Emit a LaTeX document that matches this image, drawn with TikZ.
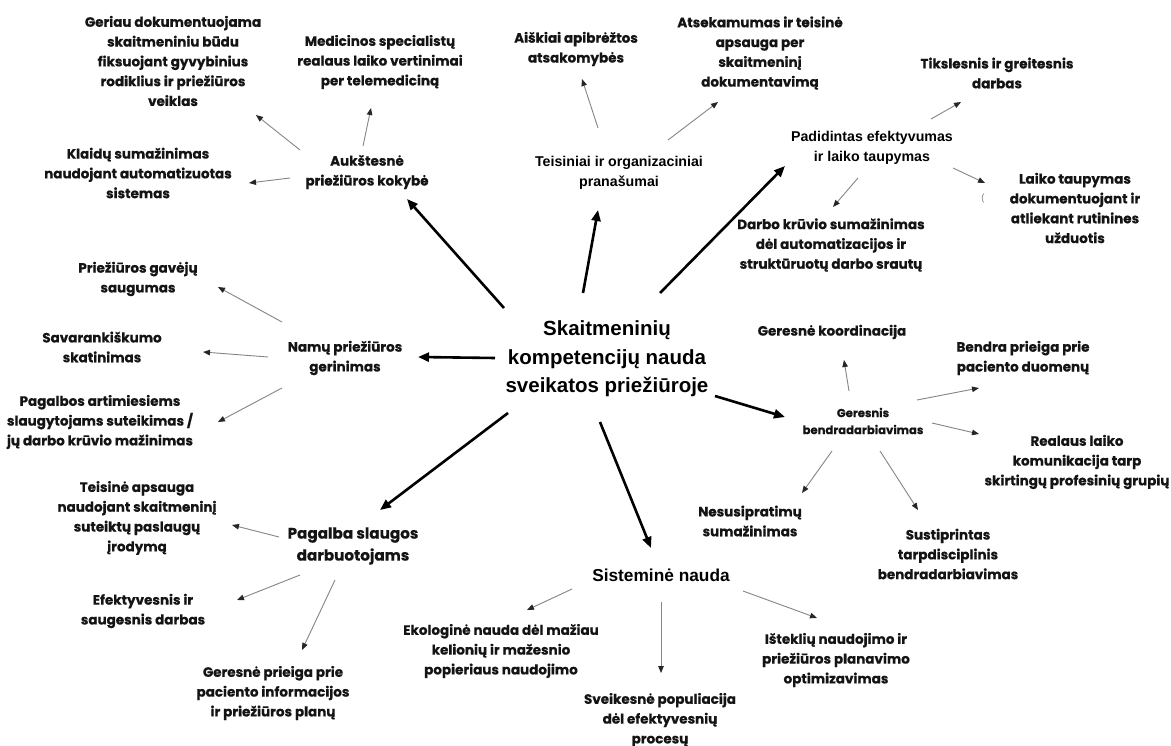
\documentclass[tikz,border=0pt]{standalone}
\usepackage{fontspec}
\usetikzlibrary{arrows.meta,calc}
\newfontfamily\pop{Poppins}[BoldFeatures={FakeBold=0.5}]
\newfontfamily\ari{Liberation Sans}
\tikzset{
  lbl/.style={align=center, inner sep=0pt, text=black!92, font=\pop\bfseries\fontsize{13.5}{19.8}\selectfont},
  lblsmall/.style={lbl, font=\pop\bfseries\fontsize{11.6}{17}\selectfont},
  lblbig/.style={lbl, font=\pop\bfseries\fontsize{15.2}{22}\selectfont},
  hub/.style={align=center, inner sep=0pt, text=black, font=\ari\bfseries\fontsize{14.2}{20.5}\selectfont},
  big/.style={draw=black, line width=2.6pt, -{Triangle[length=11pt,width=9pt]}},
  sub/.style={draw=black!48, line width=0.9pt, -{Triangle[length=7pt,width=5.5pt,color=black!85]}}
}
\begin{document}
\begin{tikzpicture}[x=1pt,y=-1pt]
\useasboundingbox (0,0) rectangle (1171,746);
\fill[white] (0,0) rectangle (1171,746);

% central
\node[hub, font=\ari\bfseries\fontsize{20.5}{28.5}\selectfont] (c) at (607,359) {Skaitmeninių\\kompetencijų nauda\\sveikatos priežiūroje};

% top middle
\node[hub] (tei) at (619,173) {Teisiniai ir organizaciniai\\pranašumai};
\node[lbl] (ais) at (576,49) {Aiškiai apibrėžtos\\atsakomybės};
\node[lbl] (ats) at (760,53) {Atsekamumas ir teisinė\\apsauga per\\skaitmeninį\\dokumentavimą};

% top left
\node[lbl] (auk) at (367,172) {Aukštesnė\\priežiūros kokybė};
\node[lbl] (med) at (380,62) {Medicinos specialistų\\realaus laiko vertinimai\\per telemediciną};
\node[lbl] (ger) at (173,61) {Geriau dokumentuojama\\skaitmeniniu būdu\\fiksuojant gyvybinius\\rodiklius ir priežiūros\\veiklas};
\node[lbl] (kla) at (138,173) {Klaidų sumažinimas\\naudojant automatizuotas\\sistemas};

% top right
\node[hub] (pad) at (872,148) {Padidintas efektyvumas\\ir laiko taupymas};
\node[lbl] (tik) at (997,73) {Tikslesnis ir greitesnis\\darbas};
\node[lbl] (lai) at (1075,208) {Laiko taupymas\\dokumentuojant ir\\atliekant rutinines\\užduotis};
\node[lbl, font=\pop\fontsize{8}{8}\selectfont, text=black!55] (stray) at (983,199) {(};
\node[lbl] (dar) at (831,245) {Darbo krūvio sumažinimas\\dėl automatizacijos ir\\struktūruotų darbo srautų};

% left
\node[lbl] (nam) at (345,358) {Namų priežiūros\\gerinimas};
\node[lbl] (pgv) at (138,279) {Priežiūros gavėjų\\saugumas};
\node[lbl] (sav) at (102,347) {Savarankiškumo\\skatinimas};
\node[lbl] (pag) at (100,422) {Pagalbos artimiesiems\\slaugytojams suteikimas /\\jų darbo krūvio mažinimas};

% bottom left
\node[lblbig] (pgs) at (353,546) {Pagalba slaugos\\darbuotojams};
\node[lbl] (tap) at (137,518) {Teisinė apsauga\\naudojant skaitmeninį\\suteiktų paslaugų\\įrodymą};
\node[lbl] (efe) at (143,611) {Efektyvesnis ir\\saugesnis darbas};
\node[lbl] (gpp) at (273,693) {Geresnė prieiga prie\\paciento informacijos\\ir priežiūros planų};

% bottom
\node[hub, font=\ari\bfseries\fontsize{17.3}{22}\selectfont] (sis) at (661,575) {Sisteminė nauda};
\node[lbl] (eko) at (501,651) {Ekologinė nauda dėl mažiau\\kelionių ir mažesnio\\popieriaus naudojimo};
\node[lbl] (sve) at (660,720) {Sveikesnė populiacija\\dėl efektyvesnių\\procesų};
\node[lbl] (ist) at (836,660) {Išteklių naudojimo ir\\priežiūros planavimo\\optimizavimas};

% right
\node[lblsmall] (gbd) at (863,421) {Geresnis\\bendradarbiavimas};
\node[lbl] (gko) at (832,332) {Geresnė koordinacija};
\node[lbl] (ben) at (1023,358) {Bendra prieiga prie\\paciento duomenų};
\node[lbl] (rea) at (1077,462) {Realaus laiko\\komunikacija tarp\\skirtingų profesinių grupių};
\node[lbl] (nes) at (750,521) {Nesusipratimų\\sumažinimas};
\node[lbl] (sus) at (948,554) {Sustiprintas\\tarpdisciplinis\\bendradarbiavimas};

% thick arrows from the centre
\draw[big] ($(c)+(504-607,308-359)$) -- ($(auk)+(407-367,199-172)$);
\draw[big] ($(c)+(583-607,293-359)$) -- ($(tei)+(598-619,210-173)$);
\draw[big] ($(c)+(660-607,293-359)$) -- ($(pad)+(785-872,166-148)$);
\draw[big] ($(c)+(495-607,358-359)$) -- ($(nam)+(418-345,357-358)$);
\draw[big] ($(c)+(508-607,413-359)$) -- ($(pgs)+(380-353,510-546)$);
\draw[big] ($(c)+(600-607,422-359)$) -- ($(sis)+(651-661,548-575)$);
\draw[big] ($(c)+(715-607,396-359)$) -- ($(gbd)+(785-863,417-421)$);

% thin arrows
\draw[sub] ($(auk)+(300-367,150-172)$) -- ($(ger)+(256-173,115-61)$);
\draw[sub] ($(auk)+(363-367,146-172)$) -- ($(med)+(371-380,108-62)$);
\draw[sub] ($(auk)+(290-367,178-172)$) -- ($(kla)+(249-138,183-173)$);

\draw[sub] ($(tei)+(598-619,128-173)$) -- ($(ais)+(582-576,79-49)$);
\draw[sub] ($(tei)+(668-619,140-173)$) -- ($(ats)+(718-760,102-53)$);

\draw[sub] ($(pad)+(931-872,119-148)$) -- ($(tik)+(961-997,102-73)$);
\draw[sub] ($(pad)+(953-872,168-148)$) -- ($(lai)+(985-1075,183-208)$);
\draw[sub] ($(pad)+(858-872,178-148)$) -- ($(dar)+(833-831,207-245)$);

\draw[sub] ($(nam)+(282-345,322-358)$) -- ($(pgv)+(218-138,287-279)$);
\draw[sub] ($(nam)+(268-345,357-358)$) -- ($(sav)+(203-102,352-347)$);
\draw[sub] ($(nam)+(282-345,388-358)$) -- ($(pag)+(218-100,422-422)$);

\draw[sub] ($(pgs)+(279-353,537-546)$) -- ($(tap)+(232-137,525-518)$);
\draw[sub] ($(pgs)+(300-353,575-546)$) -- ($(efe)+(237-143,600-611)$);
\draw[sub] ($(pgs)+(335-353,580-546)$) -- ($(gpp)+(302-273,650-693)$);

\draw[sub] ($(sis)+(572-661,589-575)$) -- ($(eko)+(527-501,610-651)$);
\draw[sub] ($(sis)+(661-661,602-575)$) -- ($(sve)+(661-660,673-720)$);
\draw[sub] ($(sis)+(743-661,591-575)$) -- ($(ist)+(817-836,618-660)$);

\draw[sub] ($(gbd)+(849-863,391-421)$) -- ($(gko)+(844-832,360-332)$);
\draw[sub] ($(gbd)+(917-863,400-421)$) -- ($(ben)+(979-1023,388-358)$);
\draw[sub] ($(gbd)+(932-863,423-421)$) -- ($(rea)+(979-1077,434-462)$);
\draw[sub] ($(gbd)+(832-863,451-421)$) -- ($(nes)+(802-750,493-521)$);
\draw[sub] ($(gbd)+(880-863,451-421)$) -- ($(sus)+(918-948,510-554)$);
\end{tikzpicture}
\end{document}
